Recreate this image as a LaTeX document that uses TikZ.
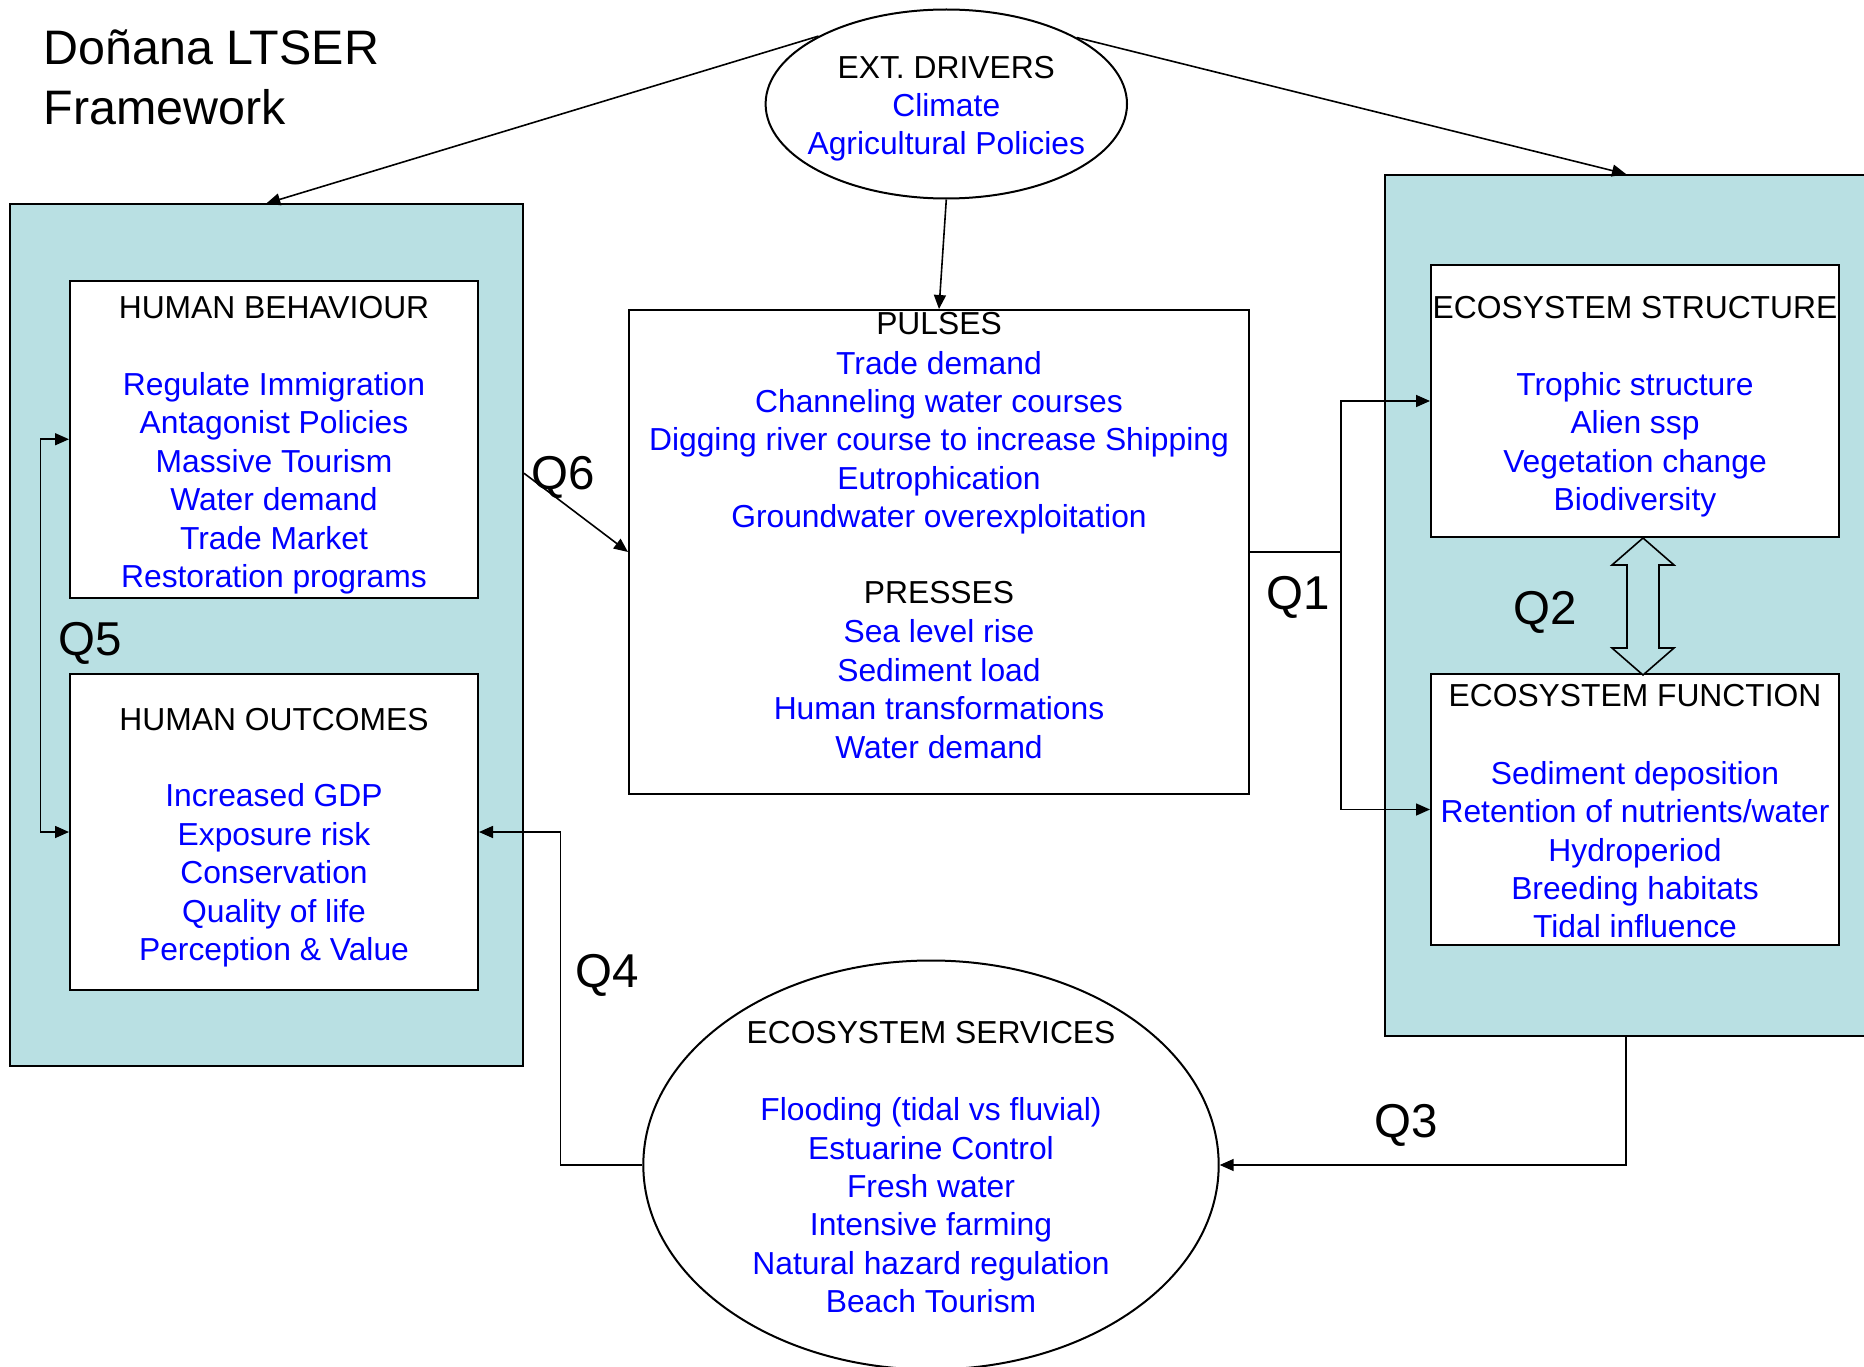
\documentclass[tikz,border=0pt]{standalone}
\usepackage{fontspec}
\setmainfont{Liberation Sans}
\usetikzlibrary{arrows.meta,shapes.geometric,calc}
\definecolor{teal0}{RGB}{185,224,227}
\definecolor{txtblue}{RGB}{0,0,255}
\begin{document}
\begin{tikzpicture}[x=1pt,y=-1pt,
  box/.style={draw=black,line width=2pt,fill=white,inner sep=0pt,rectangle},
  panel/.style={draw=black,line width=2pt,fill=teal0,inner sep=0pt,rectangle},
  oval/.style={draw=black,line width=2pt,fill=white,inner sep=0pt,ellipse},
  hdr/.style={align=center,inner sep=0pt,anchor=north,text=black,font=\fontsize{31.8pt}{38.4pt}\selectfont},
  items/.style={hdr,text=txtblue},
  qlab/.style={inner sep=0pt,font=\fontsize{47.5pt}{59pt}\selectfont},
  conn/.style={line width=1.6pt},
  arr/.style={conn,-{Triangle[length=14pt,width=12pt]}},
  darr/.style={conn,{Triangle[length=14pt,width=12pt]}-{Triangle[length=14pt,width=12pt]}},
]
\useasboundingbox[fill=white] (0,0) rectangle (1864,1367);

% panels
\node[panel,minimum width=513.5pt,minimum height=861.5pt] (leftbox) at (266.25,635.25) {};
\node[panel,minimum width=482pt,minimum height=860.5pt] (rightbox) at (1626,605.25) {};

% boxes
\node[box,minimum width=408pt,minimum height=317.5pt] (behav) at (274,439.25) {};
\node[box,minimum width=408pt,minimum height=316pt] (outcomes) at (274,832) {};
\node[box,minimum width=620pt,minimum height=484pt] (pulses) at (939,552) {};
\node[box,minimum width=408pt,minimum height=272pt] (struct) at (1635,401) {};
\node[box,minimum width=408pt,minimum height=271pt] (func) at (1635,809.5) {};
\node[oval,minimum width=361.4pt,minimum height=189pt] (ext) at (946.3,104) {};
\node[oval,minimum width=575.4pt,minimum height=409pt] (services) at (931,1165) {};

% title
\node[anchor=north west,align=left,inner sep=0pt,font=\fontsize{48.4pt}{60pt}\selectfont] (title) at (43.5,22) {\strut Doñana LTSER\\Framework};

% texts
\node[hdr] (extH) at (946.3,51.1) {\strut EXT. DRIVERS};
\node[items] (extI) at (946.3,89.1) {\strut Climate\\Agricultural Policies};

\node[hdr] (behavH) at (274,291.5) {\strut HUMAN BEHAVIOUR};
\node[items] (behavI) at (274,368.5) {\strut Regulate Immigration\\Antagonist Policies\\Massive Tourism\\Water demand\\Trade Market\\Restoration programs};

\node[hdr] (outH) at (274,703.7) {\strut HUMAN OUTCOMES};
\node[items] (outI) at (274,779.8) {\strut Increased GDP\\Exposure risk\\Conservation\\Quality of life\\Perception \& Value};

\node[hdr] (pulH) at (939,307.9) {\strut PULSES};
\node[items] (pulI) at (939,347.1) {\strut Trade demand\\Channeling water courses\\Digging river course to increase Shipping\\Eutrophication\\Groundwater overexploitation};
\node[hdr] (preH) at (939,576.5) {\strut PRESSES};
\node[items] (preI) at (939,615.8) {\strut Sea level rise\\Sediment load\\Human transformations\\Water demand};

\node[hdr] (strH) at (1635,291.2) {\strut ECOSYSTEM STRUCTURE};
\node[items] (strI) at (1635,368.5) {\strut Trophic structure\\Alien ssp\\Vegetation change\\Biodiversity};

\node[hdr] (funH) at (1635,679.9) {\strut ECOSYSTEM FUNCTION};
\node[items] (funI) at (1635,757.2) {\strut Sediment deposition\\Retention of nutrients/water\\Hydroperiod\\Breeding habitats\\Tidal influence};

\node[hdr] (serH) at (931,1016.4) {\strut ECOSYSTEM SERVICES};
\node[items] (serI) at (931,1093.6) {\strut Flooding (tidal vs fluvial)\\Estuarine Control\\Fresh water\\Intensive farming\\Natural hazard regulation\\Beach Tourism};

% Q labels
\node[qlab] (q1) at (1298,597) {Q1};
\node[qlab] (q2) at (1545.5,612.5) {Q2};
\node[qlab] (q3) at (1406,1125) {Q3};
\node[qlab] (q4) at (607.5,975) {Q4};
\node[qlab] (q5) at (90.4,643) {Q5};
\node[qlab] (q6) at (563,477) {Q6};

% connectors
\draw[arr] (ext.152.6) -- (leftbox.north);
\draw[arr] (ext.27.8) -- (rightbox.north);
\draw[arr] (ext.south) -- (pulses.north);
\draw[arr] ([yshift=162pt]leftbox.east) -- (pulses.west);
\draw[conn] (pulses.east) -- ++(91,0) coordinate (q1split);
\draw[arr] (q1split) |- (struct.west);
\draw[arr] (q1split) |- (func.west);
\draw[arr] (rightbox.south) |- (services.east);
\draw[arr] (services.west) -- ++(-82,0) |- (outcomes.east);
\draw[darr] (behav.west) -- ++(-28.4,0) |- (outcomes.west);

% Q2 block double arrow
\draw[line width=1.6pt,fill=teal0,line join=miter] ([xshift=8pt]struct.south) -- ++(31,27) -- ++(-15,0) -- ++(0,83) -- ++(15,0) -- ++(-31,27) -- ++(-31,-27) -- ++(15,0) -- ++(0,-83) -- ++(-15,0) -- cycle;
\end{tikzpicture}
\end{document}
